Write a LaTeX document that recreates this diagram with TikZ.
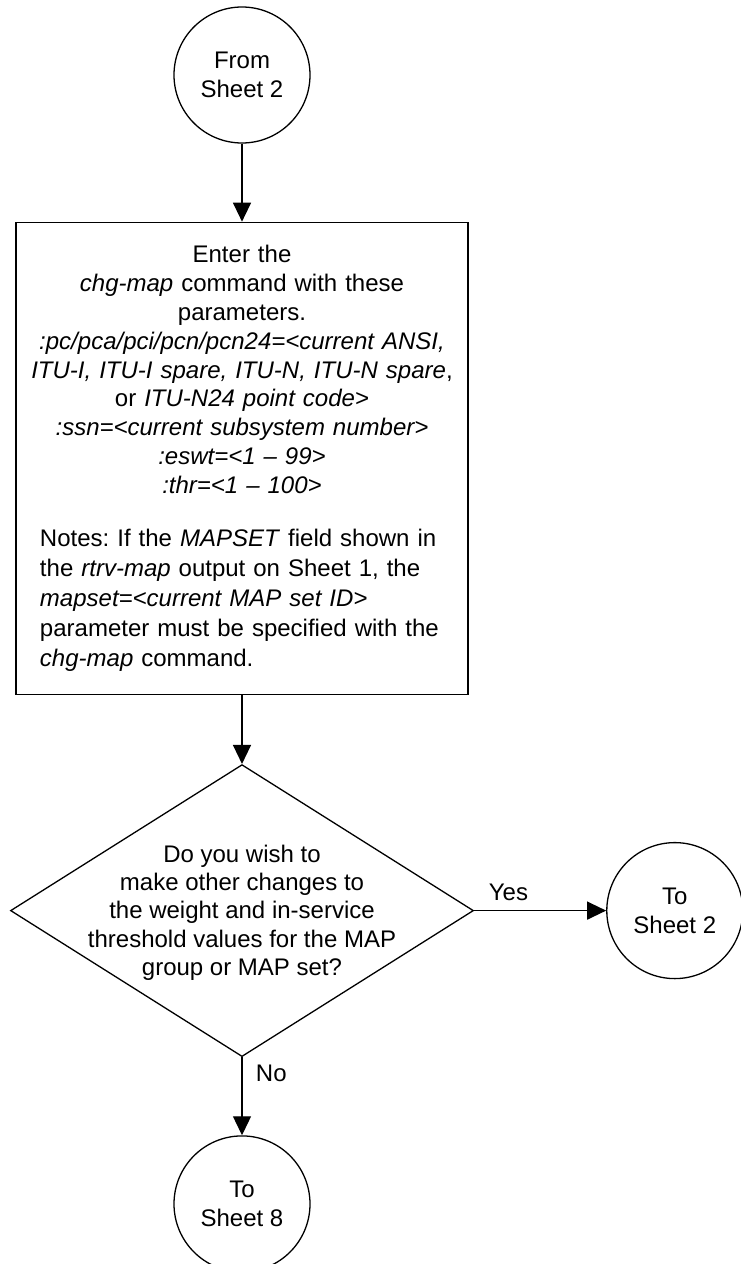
\documentclass[tikz,border=0pt]{standalone}
\usepackage{fontspec}
\setmainfont{Liberation Sans}
\usetikzlibrary{arrows.meta, shapes.geometric, positioning}
\frenchspacing

\begin{document}
\begin{tikzpicture}[x=1pt, y=1pt, line width=1.3pt,
    font=\fontsize{24}{28.8}\selectfont,
    sheet/.style={draw, circle, minimum size=136pt, inner sep=0pt, align=center},
    cmdbox/.style={draw, rectangle, minimum width=452pt, minimum height=472pt, inner xsep=0pt, text width=452pt},
    decision/.style={draw, diamond, minimum width=463pt, minimum height=292pt, inner sep=0pt},
    flow/.style={-{Triangle[length=19pt, width=18pt]}}]
  \useasboundingbox (0,0) rectangle (741,-1264);
  \node[sheet] (from) at (242,-75) {From\\Sheet 2};
  \node[cmdbox, below=78pt of from] (enter) {{\centering Enter the\\
      \textit{chg-map} command with these\\
      parameters.\\
      \textit{:pc/pca/pci/pcn/pcn24=<current ANSI,}\\
      \textit{ITU-I, ITU-I spare, ITU-N, ITU-N spare},\\
      or \textit{ITU-N24 point code>}\\
      \textit{:ssn=<current subsystem number>}\\
      \textit{:eswt=<1 – 99>}\\
      \textit{:thr=<1 – 100>}\par}
    \vspace{23pt}
    {\raggedright\leftskip=24pt\fontsize{24}{30}\selectfont
      Notes: If the \textit{MAPSET} field shown in\\
      the \textit{rtrv-map} output on Sheet 1, the\\
      \textit{mapset=<current MAP set ID>}\\
      parameter must be specified with the\\
      \textit{chg-map} command.\par}};
  \node[decision, below=69pt of enter] (ask) {};
  \node[align=center, font=\fontsize{24}{28.2}\selectfont] (asktext) at ([yshift=-2pt]ask.center) {Do you wish to\\
    make other changes to\\
    the weight and in-service\\
    threshold values for the MAP\\
    group or MAP set?};
  \node[sheet, right=132pt of ask] (tosheet2) {To\\Sheet 2};
  \node[sheet, below=78pt of ask] (tosheet8) {To\\Sheet 8};
  \draw[flow] (from) -- (enter);
  \draw[flow] (enter) -- (ask);
  \draw[flow] (ask) -- node[above=6pt, pos=0.26]{Yes} (tosheet2);
  \draw[flow] (ask) -- node[right=10pt, pos=0.2]{No} (tosheet8);
\end{tikzpicture}
\end{document}
